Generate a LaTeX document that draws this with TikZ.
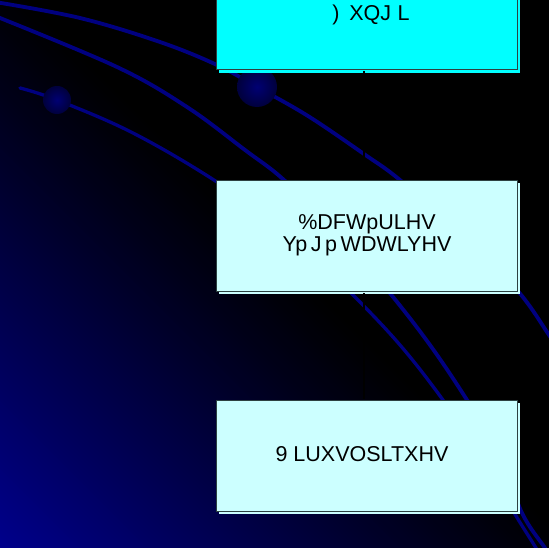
\documentclass[tikz,border=0pt]{standalone}
\usepackage{fontspec}
\setmainfont{Liberation Sans}
\definecolor{arcblue}{RGB}{0,0,128}
\definecolor{boxcyan}{RGB}{0,255,255}
\definecolor{boxlight}{RGB}{204,255,255}
\definecolor{boxedge}{RGB}{45,65,65}
\definecolor{sphin}{RGB}{0,0,115}
\definecolor{sphout}{RGB}{0,0,60}
\tikzset{
  arc/.style={draw=arcblue, line width=3.8pt, line cap=round},
  sphere/.style={inner color=sphin, outer color=sphout},
  kbox/.style={draw=boxedge, line width=1.3pt},
  ktext/.style={font=\fontsize{21.5}{25}\selectfont, align=center, inner sep=0pt},
  link/.style={draw=black, line width=2.6pt}
}
\begin{document}
\begin{tikzpicture}[x=1pt,y=-1pt]
\useasboundingbox (0,0) rectangle (549,548);
% background
\fill[black] (0,0) rectangle (549,548);
\begin{scope}
\clip (0,0) rectangle (549,548);
\foreach \s in {0,4,...,580}{
  \pgfmathsetmacro\v{0.55*pow(max(0,1-(\s+2)/575),1.1)}
  \definecolor{bgstrip}{rgb}{0,0,\v}
  \fill[bgstrip] (\s,548) -- (\s+4.6,548) -- (\s+4.6-548,0) -- (\s-548,0) -- cycle;
}
% arcs
\draw[arc] plot[smooth, tension=0.6] coordinates {(-5,2) (80,18) (160,42) (217,65) (257,87) (308,116) (364,154) (400,180) (460,233) (517,290) (549,335) (560,352)};
\draw[arc] plot[smooth, tension=0.6] coordinates {(-5,16) (117,67) (187,107) (245,150) (284,180) (340,235) (389,292) (430,345) (467,400) (500,455) (522,513) (545,548) (550,556)};
\draw[arc, line width=3.3pt] plot[smooth, tension=0.6] coordinates {(20,88) (57,100) (133,133) (217,182) (290,235) (350,292) (400,345) (443,400) (480,455) (513,511) (536,548) (540,556)};
% spheres
\shade[sphere] (257,87) circle (20pt);
\shade[sphere] (57,100) circle (14pt);
\end{scope}
% boxes
\fill[boxcyan] (219,-40) rectangle (520,73);
\node[kbox, fill=boxcyan, minimum width=301pt, minimum height=110pt, anchor=south west, inner sep=0pt] (b1) at (216,70) {};
\fill[boxlight] (219,183) rectangle (520,294);
\node[kbox, fill=boxlight, minimum width=301pt, minimum height=111pt, anchor=north west, inner sep=0pt] (b2) at (216,180) {};
\fill[boxlight] (219,403) rectangle (520,514);
\node[kbox, fill=boxlight, minimum width=301pt, minimum height=111pt, anchor=north west, inner sep=0pt] (b3) at (216,400) {};
% connectors
\coordinate (c1) at ([xshift=-3pt]b1.south);
\coordinate (c2) at ([xshift=-3pt]b2.north);
\coordinate (c3) at ([xshift=-3pt]b2.south);
\coordinate (c4) at ([xshift=-3pt]b3.north);
\draw[link] ([yshift=-1pt]c1) -- ([yshift=1pt]c2);
\draw[link] ([yshift=-1pt]c3) -- ([yshift=1pt]c4);
% texts
\node[ktext] (t1) at (371,15) {)\hspace{0.45em}XQJ\hspace{0.3em}L};
\node[ktext] (t2) at (367,235) {\%DFWpULHV\\[-3pt]Yp\,J\,p\,WDWLYHV};
\node[ktext] (t3) at (362,454) {9 LUXVOSLTXHV};
\end{tikzpicture}
\end{document}
